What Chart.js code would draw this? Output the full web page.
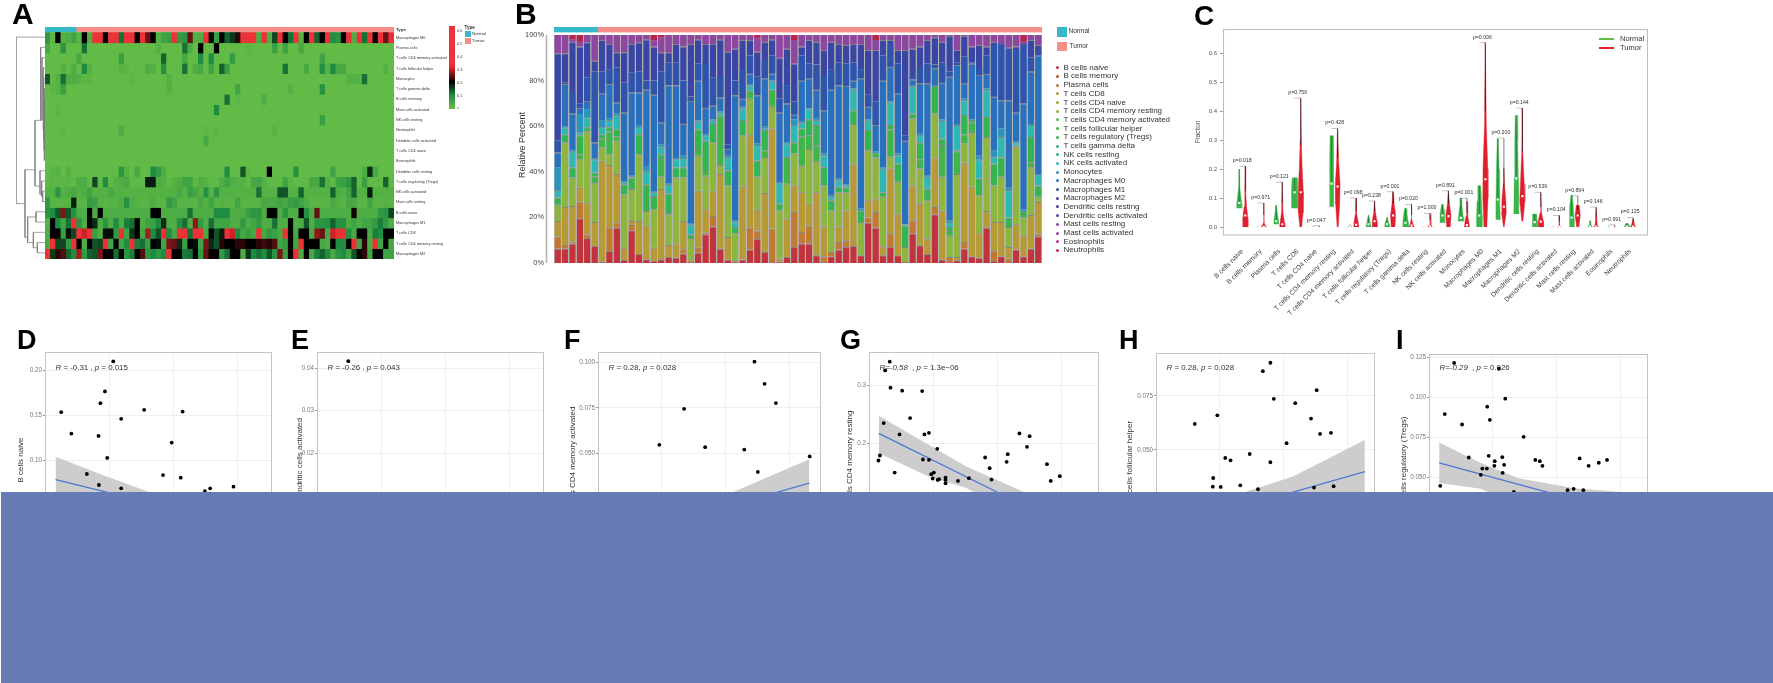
<!DOCTYPE html>
<html lang="en"><head>
<title>Immune cell fractions</title>
<meta charset="utf-8">
<style type="text/css">
html,body { margin:0; padding:0; background:#ffffff; overflow:hidden; width:1773px; height:683px; }
canvas { position:absolute; filter:blur(0.45px); }
.txt { position:absolute; font-family:"Liberation Sans",Arial,sans-serif; color:#333; white-space:nowrap; line-height:1; filter:blur(0.3px); }
.box { position:absolute; }
</style>
<script src="https://cdn.jsdelivr.net/npm/chart.js"></script>
</head>
<body>
<script>
// ---------- panel A, heatmap rows (fraction per sample) ----------
const heatNames=["Macrophages M0","Plasma cells","T cells CD4 memory activated","T cells follicular helper","Monocytes","T cells gamma delta","B cells memory","Mast cells activated","NK cells resting","Neutrophils","Dendritic cells activated","T cells CD4 naive","Eosinophils","Dendritic cells resting","T cells regulatory (Tregs)","NK cells activated","Mast cells resting","B cells naive","Macrophages M1","T cells CD8","T cells CD4 memory resting","Macrophages M2"];
const sampleType=["Normal","Normal","Normal","Normal","Normal","Normal","Tumor","Tumor","Tumor","Tumor","Tumor","Tumor","Tumor","Tumor","Tumor","Tumor","Tumor","Tumor","Tumor","Tumor","Tumor","Tumor","Tumor","Tumor","Tumor","Tumor","Tumor","Tumor","Tumor","Tumor","Tumor","Tumor","Tumor","Tumor","Tumor","Tumor","Tumor","Tumor","Tumor","Tumor","Tumor","Tumor","Tumor","Tumor","Tumor","Tumor","Tumor","Tumor","Tumor","Tumor","Tumor","Tumor","Tumor","Tumor","Tumor","Tumor","Tumor","Tumor","Tumor","Tumor","Tumor","Tumor","Tumor","Tumor","Tumor","Tumor"];
const hM0=[.07,.01,.2,.02,.03,.05,.01,.2,.03,.4, .4,.2,.4,.4,.12,.4,.35,.2,.4,.25, .2,.02,.05,.06,.4,.07,.08,.25,.02,.03, .4,.19,.06,.2,.13,.16,.22,.4,.4,.4, .03,.4,.03,.15,.35,.2,.12,.4,.02,.2, .4,.13,.2,.4,.1,.08,.2,.4,.03,.4, .12,.4,.2,.4,.25,.4];
const hPlasma=[.04,0,0,.08,0,0,0,.12,0,0, 0,0,0,0,0,0,0,0,0,0, 0,.02,0,0,0,0,.12,.03,0,.2, 0,0,.2,0,0,0,0,0,.01,0, 0,0,0,.06,0,.05,0,0,.04,0, 0,0,0,0,0,0,0,0,0,0, 0,0,0,0,0,0];
const hCd4Act=[0,0,0,0,0,0,.04,0,0,0, 0,0,0,0,.06,0,0,0,0,0, 0,0,.13,0,0,0,.04,0,0,.1, 0,.1,0,0,0,.07,0,0,0,0, 0,0,0,0,0,0,0,0,0,0, 0,0,.05,0,0,0,0,0,0,0, 0,0,0,0,0,0];
const hTfh=[0,0,0,.02,0,.03,0,.1,.02,0, 0,0,0,0,.02,.01,0,0,0,.03, .02,0,.09,0,0,0,.12,0,.03,.04, 0,.05,0,.13,.06,0,0,0,0,0, 0,0,0,0,0,.12,0,0,0,.04, 0,0,.09,.02,.1,.04,.04,0,0,0, 0,0,0,0,.02,0];
const hMono=[.14,0,.02,.12,.03,.03,.02,.01,.01,0, 0,0,0,0,0,0,.01,0,0,0, 0,0,0,.02,0,0,0,0,0,0, 0,0,0,0,0,0,0,0,0,0, 0,0,0,0,0,0,0,0,0,0, 0,0,0,0,0,0,0,.02,.02,.02, .12,0,0,0,0,0];
const hGamma=[0,.01,.02,.06,0,0,0,0,0,0, 0,0,0,0,0,0,0,0,0,0, 0,0,0,.02,0,0,0,0,0,0, 0,0,0,0,0,0,.05,0,0,0, 0,0,0,0,0,0,.02,0,0,0, 0,0,.09,0,0,0,0,0,0,0, 0,0,0,0,0,0];
const hBMem=[0,0,0,0,0,0,0,0,0,0, 0,0,0,0,0,0,0,0,0,0, 0,0,0,0,0,0,0,0,0,0, 0,0,0,0,.12,0,.01,0,0,0, 0,.03,0,0,0,0,0,0,0,0, 0,0,0,0,0,0,0,0,0,0, 0,0,0,0,0,0];
const hMastAct=[0,0,.01,0,0,0,0,0,0,0, 0,0,0,0,0,0,0,0,0,0, 0,0,0,0,0,0,0,0,0,0, 0,0,.1,0,0,0,0,0,0,0, 0,0,0,0,0,0,0,0,0,0, 0,0,0,0,0,0,0,0,0,0, 0,0,0,0,0,0];
const hNkRest=[0,0,0,0,0,0,0,0,0,0, .005,0,0,0,0,0,0,0,0,0, 0,0,0,0,0,0,0,0,0,0, 0,0,0,0,0,0,0,0,0,0, 0,0,0,0,0,0,0,0,0,0, 0,0,.06,0,0,0,0,0,0,0, 0,0,0,0,0,0];
const hNeut=[0,0,0,.01,0,0,0,0,0,0, 0,0,0,0,.03,0,0,0,0,0, 0,0,0,0,0,0,0,0,0,0, .01,0,.01,0,0,0,0,0,0,0, 0,0,0,.015,0,0,0,0,0,0, 0,0,0,0,0,0,0,0,0,0, 0,0,0,0,0,0];
const hDcAct=[0,0,0,0,0,0,0,0,0,0, 0,0,0,0,0,0,0,0,0,0, 0,0,0,0,0,0,0,0,0,0, .04,0,0,0,0,0,0,0,0,0, 0,0,0,0,0,0,0,0,0,0, 0,0,0,0,0,0,0,0,0,0, 0,0,0,0,0,0];
const hCd4Naive=[0,0,0,0,0,0,0,0,0,0, 0,0,0,0,0,0,0,0,0,0, 0,0,0,0,0,0,0,0,0,0, 0,0,0,0,0,0,0,0,0,0, 0,0,0,0,0,0,0,0,0,0, 0,0,0,0,0,0,0,0,0,0, 0,0,0,0,0,0];
const hEos=[0,0,0,0,0,0,0,0,0,0, 0,0,0,0,0,0,0,0,0,0, 0,0,0,0,0,0,0,0,0,0, 0,0,0,0,0,0,0,0,0,0, 0,0,0,0,0,0,0,0,0,0, 0,0,0,0,0,0,0,0,0,0, 0,0,0,0,0,0];
const hDcRest=[0,.01,.02,0,.02,0,0,0,0,0, 0,0,0,0,.08,.02,0,.04,0,0, .1,.07,.03,0,0,0,0,0,0,0, 0,0,0,0,.1,0,0,.14,.01,0, 0,0,.2,0,0,0,0,.09,0,0, 0,0,0,0,.05,0,0,0,0,0, .03,.17,.04,0,0,0];
const hTreg=[.005,.01,.01,.01,.01,.005,.03,.03,.005,.15, .005,.1,.005,.02,.03,.04,.005,.005,.005,.18, .18,.03,.02,.005,.02,.03,.05,.05,.005,.03, .02,.005,.005,.03,.05,.03,.02,.02,.005,.04, .05,.02,.005,.005,.005,.05,.01,.005,.005,.005, .04,.04,.12,.02,.005,.05,.06,.08,.13,.005, .06,.005,.005,.005,.13,.005];
const hNkAct=[.02,.02,.08,.02,.03,.04,.02,.03,.05,.02, .02,.02,.04,.02,.02,.02,.02,.02,.02,.02, .02,.02,.02,.02,.02,.04,.02,.06,.04,.02, .09,.02,.08,.02,.02,.02,.02,.02,.02,.02, .12,.02,.02,.02,.14,.14,.02,.02,.13,.02, .02,.02,.02,.02,.13,.03,.02,.05,.13,.02, .02,.18,.02,.02,.02,.02];
const hMastRest=[.07,.015,.015,.015,.015,.18,.015,.015,.07,.06, .02,.015,.02,.015,.03,.09,.03,.02,.015,.015, .03,.015,.015,.07,.05,.015,.015,.015,.015,.04, .02,.05,.015,.02,.015,.015,.05,.015,.015,.015, .015,.04,.04,.04,.05,.04,.06,.07,.05,.03, .015,.015,.015,.015,.04,.02,.015,.04,.04,.015, .015,.05,.015,.015,.02,.015];
const hBNaive=[.08,.1,.14,.26,.14,.09,.03,.03,.2,.03, .2,.03,.03,.03,.03,.03,.03,.03,.03,.03, .2,.2,.03,.03,.03,.03,.03,.12,.03,.03, .03,.03,.1,.1,.1,.03,.03,.03,.06,.08, .08,.03,.2,.2,.03,.08,.03,.03,.2,.09, .03,.25,.03,.03,.03,.03,.03,.03,.21,.03, .03,.03,.03,.07,.08,.15];
const hM1=[.02,.2,.1,.05,.12,.35,.08,.03,.2,.17, .03,.08,.03,.1,.03,.11,.12,.2,.03,.05, .06,.1,.17,.03,.03,.09,.12,.03,.27,.07, .03,.12,.05,.05,.05,.03,.03,.07,.03,.05, .07,.03,.03,.12,.03,.03,.2,.03,.03,.14, .03,.08,.08,.09,.13,.09,.09,.03,.05,.03, .05,.05,.07,.11,.07,.03];
const hCd8=[.03,.2,.2,.06,.19,.15,.38,.3,.36,.06, .03,.19,.19,.07,.38,.05,.16,.2,.04,.28, .1,.14,.34,.1,.04,.38,.38,.12,.38,.34, .04,.2,.14,.18,.35,.3,.1,.04,.06,.04, .38,.04,.07,.06,.04,.38,.2,.04,.2,.2, .04,.27,.25,.04,.3,.38,.38,.09,.04,.2, .2,.04,.11,.1,.2,.2];
const hCd4Rest=[.04,.38,.15,.15,.07,.35,.2,.03,.2,.14, .15,.35,.05,.2,.05,.1,.38,.11,.12,.06, .2,.19,.05,.26,.25,.17,.06,.2,.19,.05, .26,.17,.14,.22,.2,.2,.22,.22,.2,.2, .22,.23,.22,.24,.05,.07,.2,.05,.35,.2, .2,.2,.04,.03,.2,.1,.1,.2,.38,.05, .22,.03,.38,.05,.2,.04];
const hM2=[.38,.16,.22,.24,.13,.1,.28,.07,.13,.14, .26,.2,.2,.12,.2,.08,.11,.2,.24,.08, .1,.07,.1,.35,.2,.2,.11,.12,.2,.07, .25,.2,.2,.07,.12,.2,.2,.03,.16,.1, .12,.1,.14,.08,.26,.06,.2,.35,.04,.2, .04,.11,.13,.1,.04,.08,.1,.05,.14,.2, .22,.05,.2,.2,.05,.05];
const heatRows=[hM0,hPlasma,hCd4Act,hTfh,hMono,hGamma,hBMem,hMastAct,hNkRest,hNeut,hDcAct,hCd4Naive,hEos,hDcRest,hTreg,hNkAct,hMastRest,hBNaive,hM1,hCd8,hCd4Rest,hM2];

// dendrogram merges: height, row of upper/lower arm, height of upper/lower child
const mergeHeight=[87,60,52,27,35,23,30,15,10,7,13,9,6,4,3,2];
const mergeTop=[0,12.9,17.5,17,19,20,8.1,13,14,15,1,2,3,4,5,6];
const mergeBottom=[16.2,19.5,20,18,20.5,21,14.5,15.3,15.5,16,8.1,8,9,10,11,12];
const childTop=[0,30,27,0,0,0,13,0,0,0,0,0,0,0,0,0];
const childBottom=[60,52,35,0,23,0,15,10,7,0,9,6,4,3,2,0];

// ---------- panel B, top of each layer in percent, 66 samples ----------
const naiveTop=[6.4,6.4,8.6,19.6,11,7.5,.5,5.3,15.5,1.3, 14.4,4,1.6,.9,1.6,2.6,2.3,4.2,.4,4.5, 12.6,16,6.3,1.5,.4,1.5,5.9,10.5,4.8,.4, .7,2.6,7,8.5,8.5,3.4,.4,3,5.9,7, 7.5,3.4,17.6,15.5,3.4,7,3.4,.4,13,7.8, 4,21.4,1.5,.4,1.2,6.3,3,2.3,15.5,.9, 3,.4,5.9,3,6.3,11.7];
const plasmaTop=[11.6,7.9,9.4,27,12.6,7.5,.5,15.5,17.7,1.3, 16.7,4,1.6,.9,1.6,2.6,2.3,6,.4,6.7, 13.4,20.6,6.3,1.5,.4,1.5,15.5,14.3,4.8,15, .7,2.6,22.4,13.6,16.5,3.4,3,4.8,9.2,10, 7.5,3.4,20,22.4,3.4,13,3.4,.4,18.7,7.8, 4,24.6,1.5,2.6,1.2,9.2,3,2.3,15.8,5.6, 3,1.9,5.9,3,6.3,12.9];
const cd8Top=[18.4,24.6,25,33,26.2,18,44.8,43,39,6.7, 18.4,18.4,16.3,6.7,32.4,7.9,8.5,18.4,1.6,31.7, 23.6,31.7,39,11.4,1.2,33.4,56,23.4,30.7,59, 2,19.5,34,31,26,31,16,4.8,16,23, 43.6,3.4,27.5,28.3,7.3,41.4,21.7,.4,34,26, 10.7,46.3,23,2.6,2.6,44,33.4,13,22.8,18, 18,7,17,11.9,21,26.8];
const cd4Top=[25.5,52.9,37.5,45.5,57.7,35,50.7,47.7,53.6,30, 32.4,47.7,22.8,23.6,38,21.4,37.5,37.5,11,47, 38.3,53,43,34,13,56,72,38,46.5,68.5, 23,34.8,48,42.6,50,44.4,34,23,31,31, 61,18,49.5,46.3,29,46.6,35.6,7,63.4,41.4, 27.5,65.6,37.8,12,39,52.4,57.5,29.7,55.3,34, 37.8,15.8,51,20,42,29];
const greenTop=[28.7,56.5,41.9,56,59.5,39.7,56.5,59.5,58.7,34.5, 37.5,56.5,34.5,29.4,47.7,30.5,41.9,42,12.6,58.7, 53.6,61,64.6,40.7,15.8,62.7,75.5,45,58.3,76, 26,46.5,53,59,63,60.5,42,27.5,33.4,33, 67,23,58.3,48.3,31,60.5,43.6,16.5,65.6,53, 32.6,77.6,54.6,15.8,49.5,64.9,62.7,37,64,43.6, 46.3,20,51.5,22.8,55.3,34];
const nkTop=[32,59.4,49,57.3,63.8,45.5,59.5,62.7,64.6,35.6, 38,59.5,40.4,31,51,34.6,45.5,46,17,62, 56,62.4,66,46.5,18.3,67.8,78,51.7,59,79.5, 35,52.4,60.5,61.5,67.8,62.7,47.3,29,36.3,34, 76,23,62.4,48.3,41.4,70.7,47.3,16.8,77.6,56, 37.8,77.6,62.7,18,60.5,71.4,62.7,45.4,75.8,46.6, 55.3,32,53,22.8,60.5,38.5];
const monoTop=[42,60,50,65.3,67.5,46,62.7,63.5,65.5,36, 38.5,60.5,42.5,31.5,52,35,46,47,17.5,62.5, 56.5,63,66.5,47,18.8,68.5,78.5,52.5,60,80, 35.5,53,63,62,68,63.5,48,29.5,37,34.5, 76.5,24,63,49,42,71,48,17,78,57, 38.5,78,63,18.5,61,72,63,47,76.5,49.5, 59,33,53.5,23.5,61,39];
const m0Top=[48.5,78.5,65.6,68,71,52.9,74.4,78.5,70.4,66, 74.8,74.8,76,73.8,61.6,78,78,61,71,80, 68,69,72.6,50,73.6,72,83,73.6,81,83, 66,70,65,80,81,76,67,76,78,77.6, 80,81,68.5,60.5,80,86,74.4,53.6,80.5,78.8, 78.8,85.4,79,81.7,86.8,78.8,87.5,82.4,82.9,72.9, 71.4,71.4,66,70,84,91];
const m1Top=[53.6,79,75,70,81.4,84,84,85,85.8,79, 83.6,84,80,80,84,88,88,80,73,87.5, 87.3,81.4,82,52,80,84.6,91,81.7,89,91, 72,78,70.7,91,87.5,87,82,85,88,87.5, 88,85,74,70.7,91,95.6,87.5,56,82,86, 87.5,87,88,84,88,90.5,88,86,91,95.6, 96,93.4,93.4,96,90,93];
const m2Top=[92,92,97,95,96.8,88.7,97.8,96,92.4,92.4, 96,96.8,98,95,92.4,92.4,96,95,96,98, 96,96,98,92.6,94,97.8,97.8,92.7,97,98, 90,94,87.5,95,97.8,97,93.4,97,96,95.6, 96,96,93.4,93.4,97.8,97.8,93.4,93.4,94,95, 97.8,99,97,99.5,93.4,99.5,95,95.6,95,97, 96,94.5,95,96,97.8,95.6];
const mastTop=[100,100,98,97,100,100,100,100,100,100, 100,100,100,97.5,99,100,100,100,100,100, 100,100,100,100,100,100,100,98.5,100,100, 100,100,97.8,100,100,100,100,100,100,100, 100,100,100,97.8,100,100,100,100,100,100, 100,100,100,100,100,100,100,100,100,100, 100,100,100,97,100,100];
const allTop=[100,100,100,100,100,100,100,100,100,100, 100,100,100,100,100,100,100,100,100,100, 100,100,100,100,100,100,100,100,100,100, 100,100,100,100,100,100,100,100,100,100, 100,100,100,100,100,100,100,100,100,100, 100,100,100,100,100,100,100,100,100,100, 100,100,100,100,100,100];
const cellNames=["B cells naive","B cells memory","Plasma cells","T cells CD8","T cells CD4 naive","T cells CD4 memory resting","T cells CD4 memory activated","T cells follicular helper","T cells regulatory (Tregs)","T cells gamma delta","NK cells resting","NK cells activated","Monocytes","Macrophages M0","Macrophages M1","Macrophages M2","Dendritic cells resting","Dendritic cells activated","Mast cells resting","Mast cells activated","Eosinophils","Neutrophils"];
const cellColors=["#c1343c","#c2502f","#c27a32","#b59a35","#a3a536","#8cb63f","#62b946","#3fb54a","#35b552","#2fb56c","#2cb58e","#2db8b4","#2b95bd","#2a71bd","#2e55ab","#3a46a3","#4a40a4","#6a3ca0","#8e479f","#a43b9c","#b7338b","#b8234f"];

// ---------- panel C ----------
const violinNames=["B cells naive","B cells memory","Plasma cells","T cells CD8","T cells CD4 naive","T cells CD4 memory resting","T cells CD4 memory activated","T cells follicular helper","T cells regulatory (Tregs)","T cells gamma delta","NK cells resting","NK cells activated","Monocytes","Macrophages M0","Macrophages M1","Macrophages M2","Dendritic cells resting","Dendritic cells activated","Mast cells resting","Mast cells activated","Eosinophils","Neutrophils"];
const pValues=["p=0.018","p=0.971","p=0.121","p=0.756","p=0.047","p=0.428","p=0.098","p=0.238","p=0.001","p=0.020","p=1.000","p=0.891","p=0.001","p=0.006","p=0.200","p=0.144","p=0.539","p=0.104","p=0.894","p=0.146","p=0.991","p=0.135"];
const bracketTop=[.21,.083,.155,.445,.005,.34,.1,.09,.122,.078,.047,.125,.1,.636,.307,.41,.12,.04,.108,.069,.008,.033];
const normalMedian=[.083,null,.02,.12,null,.15,.002,.01,.01,.015,null,.04,.032,.04,.095,.168,.017,null,.033,.002,null,.002];
const tumorMedian=[.04,.001,.01,.12,null,.14,.008,.02,.04,.005,.001,.038,.007,.165,.07,.107,.019,.001,.04,.001,null,.002];
// outline of each violin: [fraction, half width]
const normalShape=[
 [[.065,.14],[.08,.14],[.11,.08],[.14,.03],[.2,.01]],
 [[0,.02],[.001,0]],
 [[.01,.12],[.025,.12],[.045,.07],[.075,.02]],
 [[.065,.16],[.1,.17],[.14,.17],[.17,.13]],
 [[0,.02],[.002,0]],
 [[.07,.1],[.15,.11],[.25,.09],[.315,.08]],
 [[0,.12],[.003,.06],[.008,.01]],
 [[0,.14],[.012,.1],[.03,.05],[.042,.02]],
 [[0,.14],[.01,.12],[.025,.04],[.033,.01]],
 [[0,.16],[.02,.14],[.05,.08],[.065,.04]],
 [[0,.03],[.002,0]],
 [[.015,.13],[.04,.13],[.06,.09],[.078,.05]],
 [[.02,.16],[.035,.13],[.07,.07],[.1,.05]],
 [[0,.15],[.04,.15],[.09,.12],[.143,.08]],
 [[.025,.14],[.09,.1],[.2,.07],[.305,.03]],
 [[.045,.13],[.17,.11],[.3,.08],[.385,.05]],
 [[0,.14],[.02,.14],[.045,.1]],
 [[0,.03],[.002,0]],
 [[0,.13],[.03,.13],[.07,.09],[.11,.04]],
 [[0,.14],[.006,.06],[.022,.02]],
 [[0,.03],[.003,0]],
 [[0,.15],[.006,.12],[.013,.05]]];
const tumorShape=[
 [[0,.14],[.03,.14],[.07,.07],[.12,.03],[.21,.005]],
 [[0,.14],[.006,.08],[.015,.02],[.083,.002]],
 [[0,.14],[.015,.12],[.05,.04],[.155,.005]],
 [[0,.05],[.05,.13],[.12,.14],[.2,.08],[.3,.03],[.445,.005]],
 [[0,.02],[.003,0]],
 [[0,.03],[.08,.11],[.15,.13],[.22,.06],[.34,.01]],
 [[0,.16],[.015,.12],[.05,.03],[.1,.005]],
 [[0,.14],[.02,.13],[.05,.05],[.09,.01]],
 [[0,.1],[.04,.14],[.08,.06],[.122,.02]],
 [[0,.15],[.01,.08],[.03,.01],[.078,.002]],
 [[0,.14],[.005,.05],[.047,.003]],
 [[0,.1],[.04,.14],[.08,.06],[.125,.01]],
 [[0,.14],[.02,.1],[.04,.04],[.088,.005]],
 [[0,.08],[.1,.14],[.2,.13],[.35,.05],[.636,.01]],
 [[0,.02],[.05,.13],[.09,.11],[.15,.03],[.205,.005]],
 [[.02,.03],[.09,.14],[.15,.1],[.28,.02],[.41,.003]],
 [[0,.15],[.02,.14],[.05,.04],[.12,.005]],
 [[0,.1],[.003,.02],[.04,.002]],
 [[0,.06],[.04,.14],[.075,.08]],
 [[0,.14],[.006,.06],[.068,.002]],
 [[0,.03],[.004,0]],
 [[0,.14],[.006,.09],[.03,.005]]];

// ---------- panels D to I ----------
const dX=[.181,.159,.147,.043,.263,.365,.202,.07,.142,.336,.165,.111,.313,.36,.143,.202,.5,.438,.424];
const dY=[.21,.1767,.1637,.1537,.1563,.1544,.1463,.13,.1274,.12,.103,.0852,.084,.0811,.073,.0693,.0711,.0693,.0663];
const dLineX=[.028,.57], dLineY=[.0789,.0233];
const dBandX=[.028,.16,.28,.57], dBandUp=[.1044,.083,.0648,.05], dBandLow=[.053,.05,.042,-.01];

const eX=[.083], eY=[.0416];

const fX=[.416,.443,.473,.229,.163,.285,.389,.563,.425];
const fY=[.1004,.0882,.0776,.0744,.0546,.0533,.052,.0482,.0397];
const fLineX=[.026,.562], fLineY=[.002,.0335];
const fBandX=[.026,.178,.358,.562], fBandUp=[.0059,.0132,.0285,.0467], fBandLow=[-.02,-.015,.0059,.0206];

const gX=[.055,.043,.057,.088,.141,.109,.039,.081,.147,.159,.399,.426,.181,.419,.029,.368,.025,.308,.143,.159,.365,.32,.472,.068,.172,.165,.506,.169,.203,.182,.186,.265,.325,.203,.236,.482,.203];
const gY=[.3419,.3267,.2965,.2913,.2907,.2436,.2349,.2151,.2151,.218,.2169,.2122,.1901,.1936,.1785,.1808,.1698,.175,.1715,.1709,.1674,.1564,.1634,.1488,.1488,.1459,.1424,.1384,.1401,.136,.1372,.139,.1366,.136,.1343,.1343,.1302];
const gLineX=[.026,.506], gLineY=[.2169,.0605];
const gBandX=[.026,.158,.258,.408,.506], gBandUp=[.2477,.1971,.1593,.1157,.0837], gBandLow=[.1826,.1419,.122,.07,.0198];

const hX=[.304,.284,.427,.313,.37,.163,.412,.103,.465,.436,.347,.249,.184,.198,.304,.152,.151,.172,.224,.271,.42,.472];
const hY=[.0903,.0864,.0776,.0736,.0716,.066,.0645,.062,.0579,.0574,.0531,.0481,.0463,.0452,.0443,.037,.033,.0329,.0336,.0318,.0326,.0332];
const hLineX=[.028,.555], hLineY=[.0137,.04];
const hBandX=[.028,.064,.239,.364,.555], hBandUp=[.0207,.0222,.0307,.0377,.0546], hBandLow=[-.005,-.003,.0022,.012,.0238];

const iX=[.067,.203,.155,.042,.162,.088,.186,.252,.106,.159,.195,.175,.283,.295,.302,.401,.425,.452,.474,.174,.2,.142,.154,.196,.138,.03,.369,.385,.411,.226];
const iY=[.1215,.0992,.0942,.0896,.086,.0831,.1179,.0754,.0625,.0635,.0627,.0602,.061,.0602,.0573,.0619,.0573,.0592,.061,.0573,.0579,.0556,.0556,.0529,.0517,.0448,.0421,.0429,.0421,.041];
const iLineX=[.027,.528], iLineY=[.0592,.0273];
const iBandX=[.027,.138,.238,.388,.528], iBandUp=[.0719,.059,.0496,.0433,.0406], iBandLow=[.0465,.043,.032,.015,.0027];

Chart.defaults.font.family='"Liberation Sans",Arial,sans-serif';
Chart.defaults.animation=false;
Chart.defaults.responsive=false;
Chart.defaults.maintainAspectRatio=false;
Chart.defaults.layout.autoPadding=false;
Chart.defaults.plugins.legend.display=false;
Chart.defaults.plugins.tooltip.enabled=false;

function makeCanvas(left,top,w,h) {
  var c=document.createElement('canvas');
  c.width=w; c.height=h;
  c.style.left=left+'px'; c.style.top=top+'px';
  c.style.width=w+'px'; c.style.height=h+'px';
  document.body.appendChild(c);
  return c; }

function label(text,x,y,size,color,bold) {
  var d=document.createElement('div');
  d.className='txt'; d.textContent=text;
  d.style.left=x+'px'; d.style.top=(y-size/2)+'px'; d.style.fontSize=size+'px';
  if (color) d.style.color=color;
  if (bold) d.style.fontWeight='bold';
  document.body.appendChild(d); }

function swatch(x,y,w,h,color) {
  var d=document.createElement('div');
  d.className='box';
  d.style.cssText+='left:'+x+'px;top:'+y+'px;width:'+w+'px;height:'+h+'px;background:'+color+';';
  document.body.appendChild(d);
  return d; }

// axes of fixed size, no extra room around the plot
function fixY(w) { return function(s) { s.width=w; s.paddingTop=0; s.paddingBottom=0; }; }
function fixX(h) { return function(s) { s.height=h; s.paddingLeft=0; s.paddingRight=0; }; }

function heatColor(v) {
  var s=[[0,98,187,70],[.1,30,140,65],[.2,0,0,0],[.3,205,35,40],[.34,237,50,55],[.7,237,50,55]];
  for (var i=1;i<s.length;i++) if (v<=s[i][0]) {
    var t=(v-s[i-1][0])/(s[i][0]-s[i-1][0]);
    return 'rgb('+[1,2,3].map(k=>Math.round(s[i-1][k]+t*(s[i][k]-s[i-1][k]))).join(',')+')'; }
  return 'rgb(237,50,55)'; }

const typeColor={Normal:'#35b8c8',Tumor:'#f68d87'};

// ---------- A ----------
var heatSets=[{data:sampleType.map(()=>[-.53,-.08]),backgroundColor:sampleType.map(t=>typeColor[t])}];
heatRows.forEach(function(row,r) {
  heatSets.push({data:row.map(()=>[r,r+1]),backgroundColor:row.map(heatColor)}); });
new Chart(makeCanvas(45,27,460,232),{type:'bar',
  data:{labels:sampleType.map((t,i)=>'S'+(i+1)),datasets:heatSets},
  options:{datasets:{bar:{barPercentage:1,categoryPercentage:1,grouped:false,borderWidth:0}},
    scales:{x:{display:false,afterFit:fixX(0)},
      y:{position:'right',reverse:true,min:-.53,max:22,grid:{display:false,drawTicks:false},border:{display:false},
        afterBuildTicks:s=>{s.ticks=[{value:-.3}].concat(heatNames.map((n,i)=>({value:i+.5})));},
        afterFit:fixY(111),
        ticks:{autoSkip:false,padding:2,color:'#333',
          font:c=>(c.tick&&c.tick.value<0?{size:4.4,weight:'bold'}:{size:3.8}),
          callback:v=>(v<0?'Type':heatNames[v-.5])}}}}});

var dendroSets=mergeHeight.map(function(h,i) {
  return {data:[{x:childTop[i],y:mergeTop[i]+.5},{x:h,y:mergeTop[i]+.5},{x:h,y:mergeBottom[i]+.5},{x:childBottom[i],y:mergeBottom[i]+.5}],
    showLine:true,pointRadius:0,borderWidth:.7,borderColor:'#7d7d7d',tension:0}; });
new Chart(makeCanvas(16,32,29,226),{type:'scatter',data:{datasets:dendroSets},
  options:{scales:{x:{display:false,reverse:true,min:0,max:87},y:{display:false,reverse:true,min:0,max:22}},clip:false}});

// colour key of A
var keyLevels=[];
for (var k=0;k<.638;k+=.01) keyLevels.push(k);
new Chart(makeCanvas(449,26,26,83),{type:'bar',
  data:{labels:['key'],datasets:keyLevels.map(v=>({data:[[v,v+.0105]],backgroundColor:heatColor(v)}))},
  options:{datasets:{bar:{barPercentage:1,categoryPercentage:1,grouped:false,borderWidth:0}},
    scales:{x:{display:false},
      y:{position:'right',min:0,max:.638,grid:{display:false,drawTicks:false},border:{display:false},afterFit:fixY(20),
        ticks:{stepSize:.1,includeBounds:false,padding:2,color:'#333',font:{size:3.8},callback:v=>(v==0?'0':v.toFixed(1))}}}}});
label('Type',464.5,28,4.6,'#333',true);
swatch(464.5,31,6.5,6,typeColor.Normal);
swatch(464.5,37.5,6.5,6,typeColor.Tumor);
label('Normal',472,34.5,4.4);
label('Tumor',472,40.7,4.4);

// ---------- B ----------
function span(lo,hi,color,edge) {
  return {data:lo.map((v,i)=>[v,hi[i]]),backgroundColor:color,barPercentage:.88,
    borderColor:'rgba(0,0,0,.28)',borderSkipped:false,borderWidth:edge?{top:1,right:0,bottom:0,left:0}:0}; }
var zeros=naiveTop.map(()=>0);
var helperTop=cd4Top.map((v,i)=>Math.min(greenTop[i],v+(hCd4Act[i]+hTfh[i])*100));
var barSets=[
  {data:sampleType.map(()=>[101.3,103.5]),backgroundColor:sampleType.map(t=>typeColor[t]),barPercentage:1},
  span(zeros,naiveTop,cellColors[0],true),
  span(naiveTop,plasmaTop,cellColors[2],true),
  span(plasmaTop,cd8Top,cellColors[3],true),
  span(cd8Top,cd4Top,cellColors[5],true),
  span(cd4Top,helperTop,cellColors[7],true),
  span(helperTop,greenTop,cellColors[8],true),
  span(greenTop,nkTop,cellColors[11],true),
  span(nkTop,monoTop,cellColors[12],false),
  span(monoTop,m0Top,cellColors[13],true),
  span(m0Top,m1Top,cellColors[14],false),
  span(m1Top,m2Top,cellColors[15],true),
  span(m2Top,mastTop,cellColors[18],false),
  span(mastTop,allTop,cellColors[21],false)];
new Chart(makeCanvas(517,27,525,242),{type:'bar',
  data:{labels:sampleType.map((t,i)=>'S'+(i+1)),datasets:barSets},
  options:{layout:{padding:{bottom:6}},datasets:{bar:{categoryPercentage:1,grouped:false}},
    scales:{x:{display:false,afterFit:fixX(0)},
      y:{min:0,max:103.5,grid:{display:false,drawTicks:false},border:{display:false},afterFit:fixY(37),
        title:{display:true,text:'Relative Percent',font:{size:9},color:'#333',padding:{top:0,bottom:0}},
        ticks:{stepSize:20,includeBounds:false,padding:10,color:'#444',font:{size:7.4},callback:v=>v+'%'}}}},
  plugins:[{id:'barBack',beforeDatasetsDraw:function(ch) {
    var a=ch.chartArea,y=ch.scales.y,c=ch.ctx;
    c.fillStyle='#b9b9b9';
    c.fillRect(a.left,y.getPixelForValue(100),a.right-a.left,y.getPixelForValue(0)-y.getPixelForValue(100));
    c.strokeStyle='#b5b5b5'; c.lineWidth=1.6;
    c.beginPath(); c.moveTo(a.left-7.5,y.getPixelForValue(100)); c.lineTo(a.left-7.5,y.getPixelForValue(0)); c.stroke(); }}]});
swatch(1057,27,9.5,9.5,typeColor.Normal);
swatch(1057,41.5,9.5,9.5,typeColor.Tumor);
label('Normal',1068.5,31.5,6.5);
label('Tumor',1069.5,46.5,6.5);
cellNames.forEach(function(n,i) {
  var y=67.7+8.7*i;
  var d=swatch(1056,y-1.5,3,3,cellColors[i]); d.style.borderRadius='50%';
  label(n,1063.5,y,8); });

// ---------- C ----------
function polygon(shape,c,color) {
  var up=shape.map(p=>({x:c-p[1],y:p[0]}));
  var down=shape.slice().reverse().map(p=>({x:c+p[1],y:p[0]}));
  return {data:up.concat(down),showLine:true,fill:'shape',backgroundColor:color,borderColor:color,borderWidth:.4,pointRadius:0,tension:0,order:3}; }
var violinSets=[];
violinNames.forEach(function(n,i) {
  violinSets.push(polygon(normalShape[i],i-.165,'#3cb44a'));
  violinSets.push(polygon(tumorShape[i],i+.165,'#e01f2d'));
  var nTop=normalShape[i][normalShape[i].length-1][0], tTop=tumorShape[i][tumorShape[i].length-1][0];
  if (normalMedian[i]!==null) violinSets.push({data:[{x:i-.165,y:normalMedian[i]},{x:i-.165,y:nTop}],showLine:true,pointRadius:0,borderColor:'rgba(0,70,30,.7)',borderWidth:.6,order:2});
  if (tumorMedian[i]!==null) violinSets.push({data:[{x:i+.165,y:(tumorMedian[i]+tTop)/2},{x:i+.165,y:tTop}],showLine:true,pointRadius:0,borderColor:'#111',borderWidth:.7,order:2});
  violinSets.push({data:[{x:i-.165,y:bracketTop[i]},{x:i+.165,y:bracketTop[i]},{x:i+.165,y:tTop}],showLine:true,pointRadius:0,borderColor:'#999',borderWidth:.6,order:4}); });
violinSets.push({data:normalMedian.map((v,i)=>({x:i-.165,y:v})),pointStyle:'rect',pointRadius:1.5,backgroundColor:'#fff',borderWidth:0,showLine:false,order:1});
violinSets.push({data:tumorMedian.map((v,i)=>({x:i+.165,y:v})),pointStyle:'rect',pointRadius:1.5,backgroundColor:'#fff',borderWidth:0,showLine:false,order:1});
new Chart(makeCanvas(1180,29,468,290),{type:'scatter',data:{datasets:violinSets},
  options:{scales:{
      x:{min:-1.045,max:21.97,grid:{display:false},border:{display:false},
        afterBuildTicks:s=>{s.ticks=violinNames.map((n,i)=>({value:i}));},
        afterFit:fixX(84.5),
        ticks:{autoSkip:false,minRotation:45,maxRotation:45,padding:5,color:'#444',font:{size:6.8},callback:v=>violinNames[v]}},
      y:{min:-.0255,max:.683,border:{display:false},grid:{drawOnChartArea:false,tickLength:3,color:'#999'},
        afterFit:fixY(43),
        title:{display:true,text:'Fraction',font:{size:6.3},color:'#444',padding:{top:14,bottom:0}},
        ticks:{stepSize:.1,includeBounds:false,padding:3,color:'#555',font:{size:6},callback:v=>Math.abs(v).toFixed(1)}}}},
  plugins:[{id:'violinText',afterDraw:function(ch) {
    var a=ch.chartArea,c=ch.ctx,x=ch.scales.x,y=ch.scales.y;
    c.strokeStyle='#bdbdbd'; c.lineWidth=1.1; c.strokeRect(a.left+.5,a.top+.5,a.right-a.left-1,a.bottom-a.top);
    c.font='5.2px "Liberation Sans",Arial,sans-serif'; c.fillStyle='#333'; c.textAlign='center'; c.textBaseline='middle';
    pValues.forEach(function(p,i) { c.fillText(p,x.getPixelForValue(i),y.getPixelForValue(bracketTop[i])-5.5); }); }}]});
swatch(1599,37.6,15,2,'#62bb46');
swatch(1599,47,15,2,'#e8262d');
label('Normal',1620,38.5,7.5);
label('Tumor',1620,48,7.5);

// ---------- D to I ----------
function scatterPanel(o) {
  var sets=[{data:o.x.map((v,i)=>({x:v,y:o.y[i]})),pointRadius:1.9,backgroundColor:'#000',borderWidth:0,showLine:false,order:0}];
  if (o.lineX) {
    sets.push({data:o.lineX.map((v,i)=>({x:v,y:o.lineY[i]})),showLine:true,pointRadius:0,borderColor:'#4f78d0',borderWidth:1.3,order:1});
    sets.push({data:o.bandX.map((v,i)=>({x:v,y:o.bandUp[i]})),showLine:true,pointRadius:0,borderWidth:0,fill:'+1',backgroundColor:'#cdcdcd',tension:0,order:2});
    sets.push({data:o.bandX.map((v,i)=>({x:v,y:o.bandLow[i]})),showLine:true,pointRadius:0,borderWidth:0,order:3}); }
  var w=Math.round(o.right-o.left)+o.axis;
  new Chart(makeCanvas(o.left-o.axis,o.top,w,568-o.top),{type:'scatter',data:{datasets:sets},
    options:{scales:{
        x:{min:0,max:o.xMax,border:{display:false},grid:{color:'#f1f1f1',drawTicks:false},afterFit:fixX(0),
          ticks:{display:false,stepSize:.17,includeBounds:false}},
        y:{min:o.yMin,max:o.yMax,border:{display:false},grid:{color:'#eeeeee',tickLength:2,tickColor:'#999'},afterFit:fixY(o.axis),
          title:{display:true,text:o.title,font:{size:8},color:'#333',padding:{top:1,bottom:0}},
          ticks:{stepSize:o.step,includeBounds:false,padding:1,color:'#777',font:{size:6.3},callback:v=>v.toFixed(o.digits)}}}},
    plugins:[{id:'panelBox',afterDraw:function(ch) {
      var a=ch.chartArea,c=ch.ctx,px=a.left+10.5;
      c.strokeStyle='#c4c4c4'; c.lineWidth=1; c.strokeRect(a.left+.5,a.top+.5,a.right-a.left-1,a.bottom-a.top);
      c.fillStyle='#333'; c.textBaseline='middle'; c.textAlign='left';
      o.note.forEach(function(part) {
        c.font=(part[1]?'italic ':'')+'7.9px "Liberation Sans",Arial,sans-serif';
        c.fillText(part[0],px,367.7-o.top);
        px+=c.measureText(part[0]).width; }); }}]}); }

scatterPanel({left:45,right:272,top:352,axis:30,xMax:.602,yMin:-.019,yMax:.2204,step:.05,digits:2,title:'B cells naive',x:dX,y:dY,lineX:dLineX,lineY:dLineY,bandX:dBandX,bandUp:dBandUp,bandLow:dBandLow,note:[['R',1],[' = -0.31 , ',0],['p',1],[' = 0.015',0]]});
scatterPanel({left:317,right:544,top:352,axis:23,xMax:.602,yMin:-.007,yMax:.04376,step:.01,digits:2,title:'Dendritic cells activated',x:eX,y:eY,note:[['R',1],[' = -0.26 , ',0],['p',1],[' = 0.043',0]]});
scatterPanel({left:598,right:821,top:352,axis:31,xMax:.593,yMin:-.0132,yMax:.1057,step:.025,digits:3,title:'T cells CD4 memory activated',x:fX,y:fY,lineX:fLineX,lineY:fLineY,bandX:fBandX,bandUp:fBandUp,bandLow:fBandLow,note:[['R',1],[' = 0.28, ',0],['p',1],[' = 0.028',0]]});
scatterPanel({left:869,right:1099,top:352,axis:25,xMax:.61,yMin:-.0174,yMax:.3587,step:.1,digits:1,title:'T cells CD4 memory resting',x:gX,y:gY,lineX:gLineX,lineY:gLineY,bandX:gBandX,bandUp:gBandUp,bandLow:gBandLow,note:[['R=-0.58',1],['  , ',0],['p',1],[' = 1.3e\u221206',0]]});
scatterPanel({left:1156,right:1375,top:353,axis:32,xMax:.582,yMin:-.0046,yMax:.0948,step:.025,digits:3,title:'T cells follicular helper',x:hX,y:hY,lineX:hLineX,lineY:hLineY,bandX:hBandX,bandUp:hBandUp,bandLow:hBandLow,note:[['R',1],[' = 0.28, ',0],['p',1],[' = 0.028',0]]});
scatterPanel({left:1429,right:1648,top:354,axis:31,xMax:.583,yMin:-.0065,yMax:.1271,step:.025,digits:3,title:'T cells regulatory (Tregs)',x:iX,y:iY,lineX:iLineX,lineY:iLineY,bandX:iBandX,bandUp:iBandUp,bandLow:iBandLow,note:[['R=-0.29',1],['  , ',0],['p',1],[' = 0.026',0]]});

// band that covers the lower half of the page
swatch(1,492,1772,191,'#677cb4').style.zIndex=5;

// panel letters
[['A',12,14,30],['B',515,14,30],['C',1194,16,28],['D',17,340,27],['E',291,340,27],['F',564,340,27],['G',840,340,27],['H',1119,340,27],['I',1396,340,27]].forEach(function(p) {
  label(p[0],p[1],p[2],p[3],'#000',true); });
</script>
</body></html>
